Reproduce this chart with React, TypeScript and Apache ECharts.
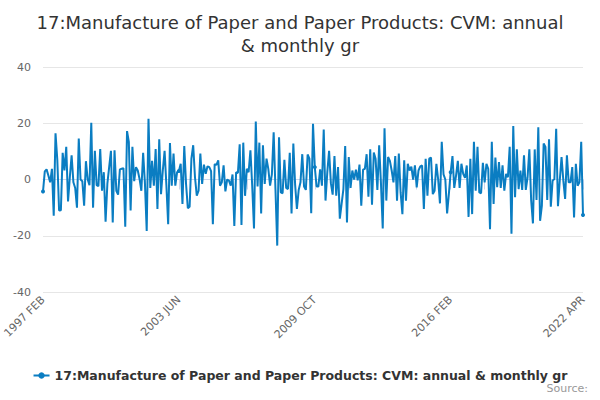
import React, { useEffect, useRef } from "react";
import * as echarts from "echarts";

const TITLE = "17:Manufacture of Paper and Paper Products: CVM: annual\n& monthly gr";
const SERIES_NAME = "17:Manufacture of Paper and Paper Products: CVM: annual & monthly gr";
const MONTHS = ["JAN", "FEB", "MAR", "APR", "MAY", "JUN", "JUL", "AUG", "SEP", "OCT", "NOV", "DEC"];
const START_YEAR = 1997;
const START_MONTH = 1; // FEB
const Y_TICKS = [-40, -20, 0, 20, 40];

const valuesA = [
  -4.3, 2.9, 3.6, 1.4, -1, 3.8, -12.9, 16.4, 7, -11, -10.9, 9.5, 3.2, 11.6, -7.8, 0.8, 8.6, -1, -3, -10,
  14.6, 0, -0.6, -9.3, 6.5, 0, -2, 20.2, -10, 10.2, -2, -2.4, 10.8, -4, 2.6, -15, -1.5, 4.4, 10.2, -15.3,
  10.4, -4, -5.4, 3.6, 3.8,
];
const valuesB = [
  4, -16.8, 17.2, 13.4, -11, 11.6, -0.6, 4.4, 3.2, 0.2, -4, 9.5, -1.3, -18.3, 21.6, -3, 6.6, -2.2, 10.8, -10.5,
  14.3, -5.2, 3.2, 10.2, -2, -15.9, 13, -2.2, 9.2, -2.2, 2.6, 3, 5.6, -8.7, 11.9, -1.6, -10.2, -9.7, 7.4, 12.2,
  0.8, -5.7, -4, 9.2, -1.6, 5.3, 2, 4.7, 4.4, 3, -15.9, 5.4, 5.2, 6.8, -2.2,
];
const valuesC = [
  -1, 5, -4.2, 0, -0.4, -2.2, 1.8, -16.5, 2.6, 2.3, 12.5, -16.2, 13.1, -5.8, 3.8, 2.6, 10.4, -2.2, -17.4, 20.6,
  -2.5, 13.1, -12.1, 12.2, -1.6, 7.4, 3.8, -2.2, 1.8, 16.8, -3.4, -23.5, 15, -4.6, -4.9, 7, -3, -3.4, 9.5, -12.1,
  12.8, -1.8, -10.5, -3.7, -1, 9, -2.5, -3.7, 8.9, 7.4,
];
const valuesD = [
  -12, 19.8, 4.4, -2.5, -2.5, 3.6, -2.2, 17.8, -7.5, 2.6, 10.2, -1.3, -5.4, 8.3, -5.8, 4.4, -13.9, -8.7, -3.4, 11.9,
  -15.3, 8, -3, 3.2, 0, 3.5, -0.3, 5.3, -9.3, 3.5, 3.8, 9, -6.1, 10.7, -9, 9.6, 7.4, -3.7, 12.2, -1.3,
  -17.4, 18.2, -7.5, 8, 6.6, 3.2, -1, 8.3, -7.5, 9.2,
];
const valuesE = [
  -4.6, -12.3, 6.8, -7.5, 5.6, 3.2, 4.6, 0, 5, -2.8, 3.2, 4.7, 5, -10.5, 7.4, -5.8, 7.4, 7.8, -5.2, -4,
  5.6, 0, -8.5, 13.4, 1.8, 0, -12.1, -5, 2.6, 8.3, -3, 1.4, 6.6, -3, 5.6, 2, 0.6, 5, -13.3, 7.4,
  -12.3, 13.4, -4, 11.6, -4.6, -4.9, 5.9, -1, 5.6, 3.8, -17.7,
];
const valuesF = [
  13.4, -8.7, 7.8, -2.7, 6.2, -3, 5, -4, 2, 0.8, 11.6, -19.3, 19, -6.3, 10.7, -3.4, 3.2, -3.7, 8.6, -3.7,
  0.8, 10.7, -7.3, -15.6, 10.7, -7.3, 18.6, -14.7, -9.3, 12.8, 11.6, -7.3, 14.3, -9.7, -0.4, 0.2, 18, -9.5, -0.4,
  8, -0.4, -6.9, 8.6, -1, -1, 4.4, -13.5, 5.6, -2.2, -1, 13.4, -12.6,
];

const values = [...valuesA, ...valuesB, ...valuesC, ...valuesD, ...valuesE, ...valuesF];
const categories = values.map((_, i) => {
  const m = START_MONTH + i;
  return `${START_YEAR + Math.floor(m / 12)} ${MONTHS[m % 12]}`;
});

const FONT = "DejaVu Sans";

export default function App() {
  const ref = useRef<HTMLDivElement>(null);
  useEffect(() => {
    if (!ref.current) return;
    const chart = echarts.init(ref.current, undefined, { renderer: "svg" });
    const last = categories.length - 1;
    chart.setOption({
      animation: false,
      backgroundColor: "#ffffff",
      title: {
        text: TITLE,
        left: "center",
        top: 6,
        textStyle: { fontFamily: FONT, fontSize: 18, fontWeight: "normal", color: "#333333", lineHeight: 23 },
      },
      grid: { left: 40, right: 17, top: 67, bottom: 108, containLabel: false },
      legend: {
        top: 364,
        left: "center",
        itemWidth: 16,
        itemHeight: 8,
        textStyle: { fontFamily: FONT, fontSize: 12.5, fontWeight: "bold", color: "#333333" },
        data: [SERIES_NAME],
      },
      graphic: [
        {
          type: "text",
          right: 12,
          top: 383,
          style: { text: "Source:", fontFamily: FONT, fontSize: 11, fill: "#999999" },
        },
      ],
      xAxis: {
        type: "category",
        data: categories,
        boundaryGap: false,
        axisLine: { lineStyle: { color: "#ccd6eb" } },
        axisTick: {
          length: 10,
          lineStyle: { color: "#ccd6eb" },
          interval: (i: number) => i % 19 === 0 || i === last,
        },
        axisLabel: {
          rotate: 45,
          margin: 6,
          fontFamily: FONT,
          fontSize: 11,
          color: "#666666",
          interval: (i: number) => i % 76 === 0 || i === last,
        },
        splitLine: { show: false },
      },
      yAxis: {
        type: "value",
        min: Y_TICKS[0],
        max: Y_TICKS[Y_TICKS.length - 1],
        interval: 20,
        axisLine: { show: false },
        axisTick: { show: false },
        axisLabel: { fontFamily: FONT, fontSize: 11, color: "#666666", margin: 12 },
        splitLine: { lineStyle: { color: "#e6e6e6" } },
      },
      series: [
        {
          name: SERIES_NAME,
          type: "line",
          data: values,
          symbol: "circle",
          symbolSize: 4,
          itemStyle: { color: "#0a7dc2" },
          lineStyle: { width: 2, color: "#0a7dc2" },
        },
      ],
    });
    return () => chart.dispose();
  }, []);
  return <div ref={ref} style={{ position: "absolute", left: 0, top: 0, width: 600, height: 400 }} />;
}
